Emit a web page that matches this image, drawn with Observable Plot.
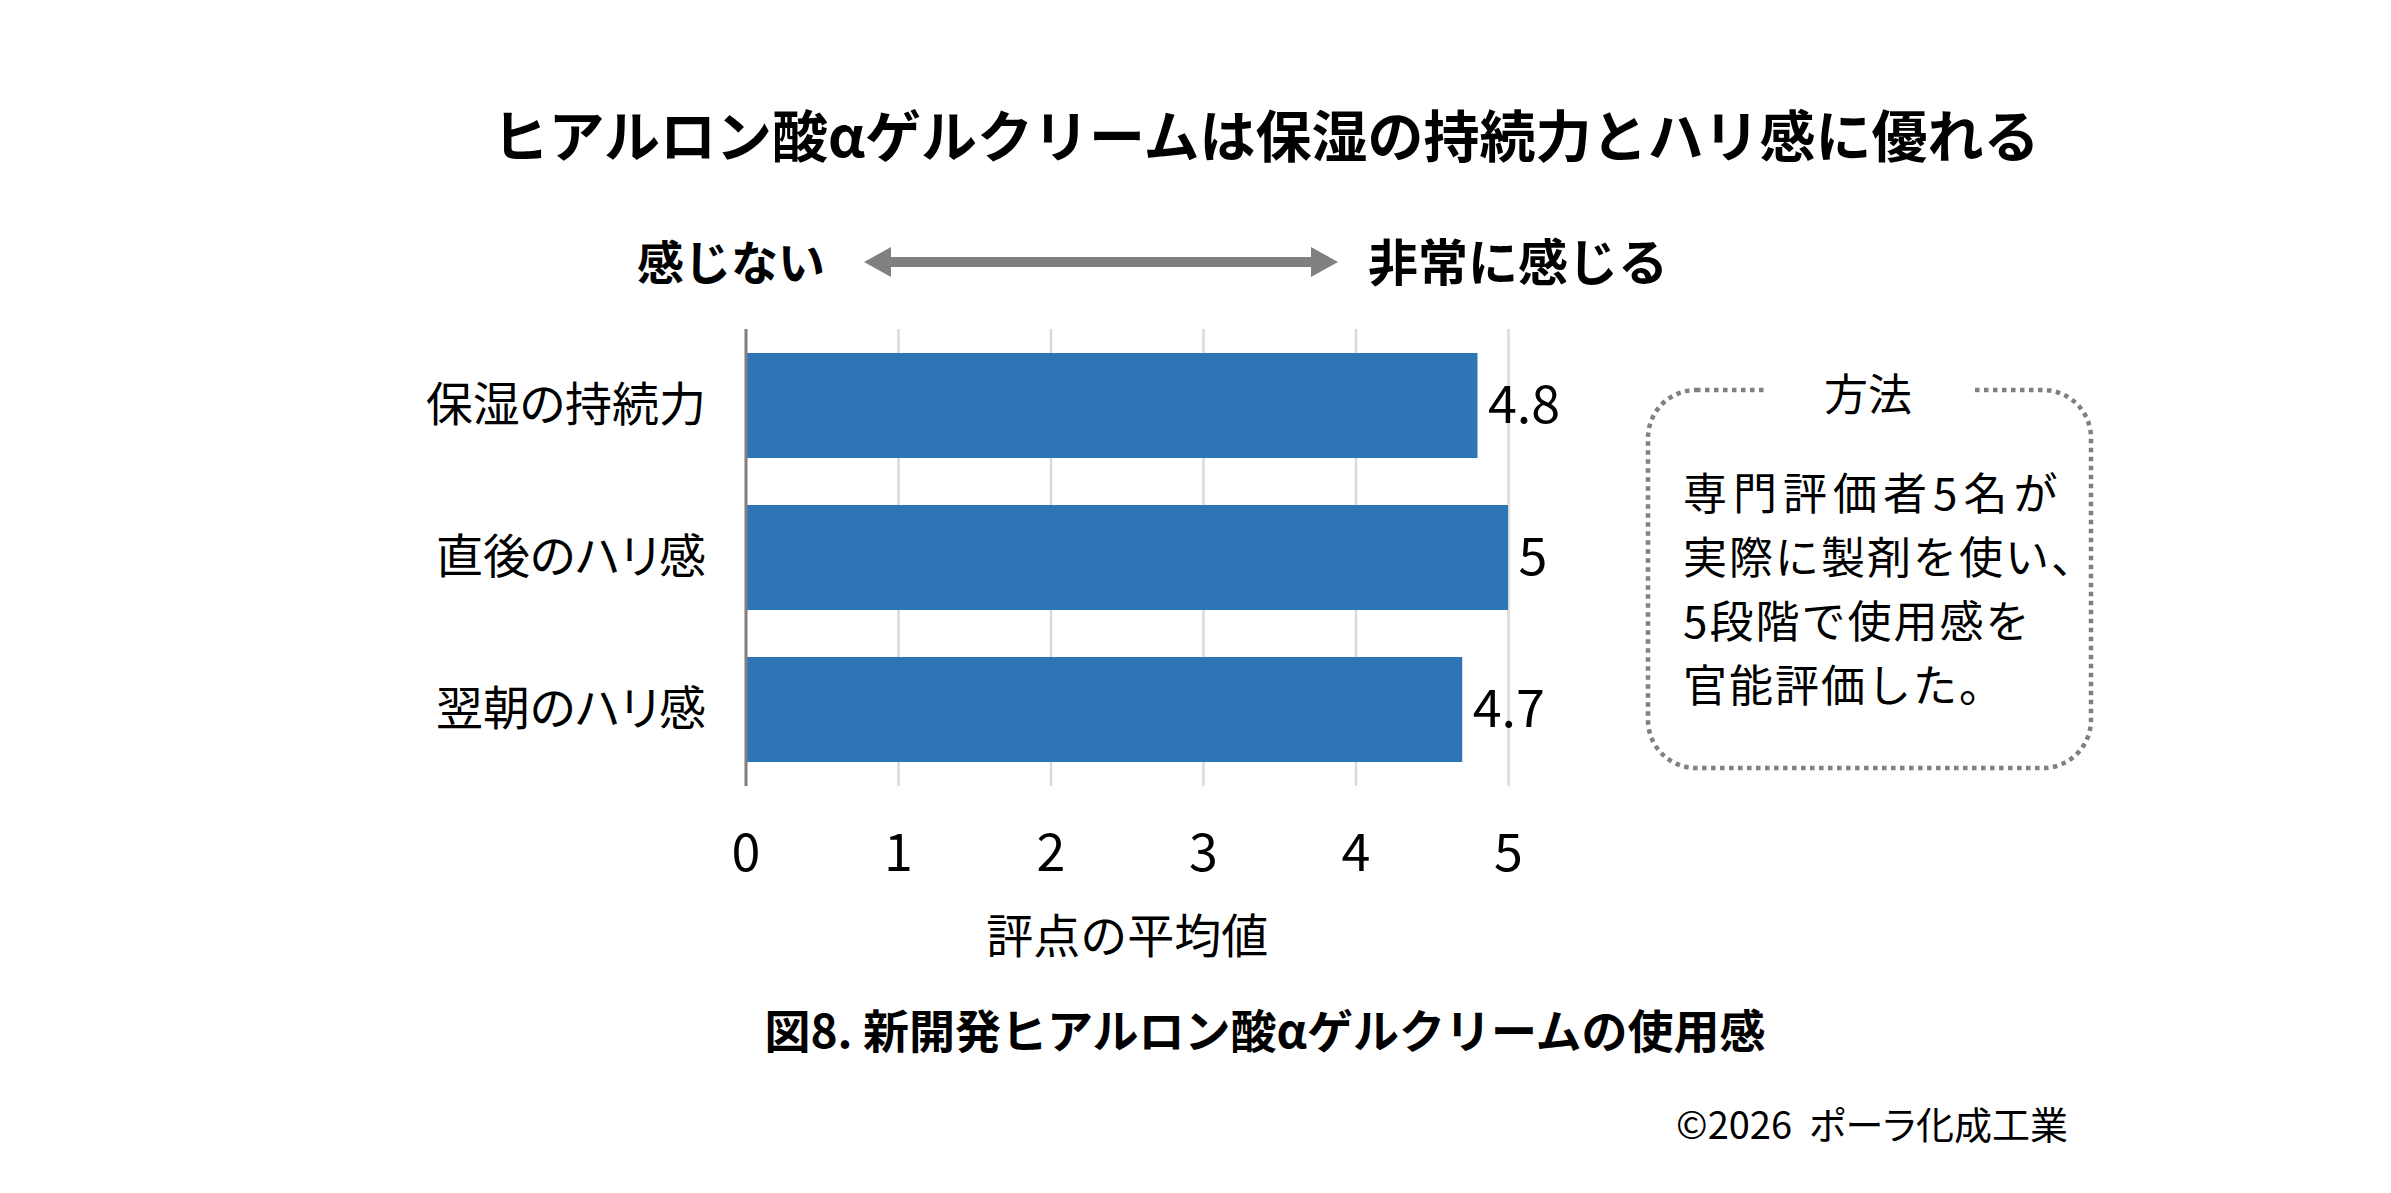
<!DOCTYPE html>
<html><head><meta charset="utf-8">
<script src="https://cdn.jsdelivr.net/npm/d3@7"></script>
<script src="https://cdn.jsdelivr.net/npm/@observablehq/plot@0.6"></script>
<style>
body{margin:0;background:#fff;font-family:"Noto Sans CJK JP","Noto Sans",sans-serif;}
#page{position:relative;width:2391px;height:1193px;overflow:hidden;background:#fff;}
.abs{position:absolute;white-space:nowrap;line-height:1;transform:translate(-50%,-50%);color:#000;}
#plot{position:absolute;left:0;top:300px;}
#overlay{position:absolute;left:0;top:0;pointer-events:none;}
</style></head><body><div id="page">
<div class="abs" id="title" style="left:1266px;top:133px;font-size:56px;font-weight:700;">ヒアルロン酸αゲルクリームは保湿の持続力とハリ感に優れる</div>
<div class="abs" style="left:731px;top:259px;font-size:47px;font-weight:700;">感じない</div>
<div class="abs" style="left:1518px;top:259px;font-size:50px;font-weight:700;">非常に感じる</div>
<div class="abs" style="left:1265px;top:1028px;font-size:46px;font-weight:700;">図8. 新開発ヒアルロン酸αゲルクリームの使用感</div>
<div class="abs" style="left:2068px;top:1123px;font-size:38px;transform:translate(-100%,-50%);font-feature-settings:'palt';">©2026&nbsp;&nbsp;ポーラ化成工業</div>
<div id="plot"></div>
</div>
<script>
const categories = ["保湿の持続力", "直後のハリ感", "翌朝のハリ感"];
const values = [4.8, 5, 4.7];
const xTicks = [0, 1, 2, 3, 4, 5];
const xLabel = "評点の平均値";
const methodTitle = "方法";
const methodLines = ["専門評価者5名が", "実際に製剤を使い、", "5段階で使用感を", "官能評価した。"];

const data = categories.map((c, i) => ({category: c, value: values[i]}));
const font = '"Noto Sans CJK JP","Noto Sans",sans-serif';

const chart = Plot.plot({
  width: 2391,
  height: 700,
  marginLeft: 745.5,
  marginRight: 883,
  marginTop: 29,
  marginBottom: 214,
  x: {domain: [0, 5], ticks: xTicks},
  y: {domain: categories, paddingInner: 0.31, paddingOuter: 0.155},
  style: {fontFamily: font, fontSize: "46px", color: "#000", background: "transparent", overflow: "visible"},
  marks: [
    Plot.ruleX(xTicks, {stroke: "#d9d9d9", strokeWidth: 2.5}),
    Plot.barX(data, {x: "value", y: "category", fill: "#2e75b6"}),
    Plot.ruleX([0], {stroke: "#808080", strokeWidth: 3}),
    Plot.text(data, {x: "value", y: "category", text: d => String(d.value), textAnchor: "start", dx: 10, fontSize: 52, fill: "#000"}),
    Plot.axisX({ticks: xTicks, tickSize: 0, tickPadding: 48, fontSize: 52, label: null, fill: "#000", tickFormat: d => String(d)}),
    Plot.axisY({tickSize: 0, tickPadding: 40, fontSize: 47, label: null, fill: "#000", fontVariant: "normal", style: "font-feature-settings:'palt'"}),
    Plot.text([xLabel], {frameAnchor: "bottom", dy: 151, fontSize: 47, fill: "#000", lineAnchor: "middle"})
  ]
});
d3.select(chart).selectAll('g[aria-label="y-axis tick label"] text').style("font-feature-settings", "'palt'");
document.getElementById("plot").appendChild(chart);

// overlay: arrow and method box
const svg = d3.select("#page").append("svg").attr("id", "overlay")
  .attr("width", 2391).attr("height", 1193);
const g = "#808080";
const ax0 = 864, ax1 = 1338, ay = 262, hl = 27, hh = 15, sh = 5;
svg.append("path").attr("fill", g).attr("d",
  `M${ax0},${ay} L${ax0+hl},${ay-hh} L${ax0+hl},${ay-sh} L${ax1-hl},${ay-sh} L${ax1-hl},${ay-hh} L${ax1},${ay} L${ax1-hl},${ay+hh} L${ax1-hl},${ay+sh} L${ax0+hl},${ay+sh} L${ax0+hl},${ay+hh} Z`);

const bx = 1648, by = 390, bw = 443, bh = 378;
svg.append("rect").attr("x", bx).attr("y", by).attr("width", bw).attr("height", bh)
  .attr("rx", 48).attr("fill", "none").attr("stroke", g).attr("stroke-width", 4.5)
  .attr("stroke-dasharray", "4.5 4.5");
svg.append("rect").attr("x", 1766).attr("y", by - 10).attr("width", 206).attr("height", 20).attr("fill", "#fff");
svg.append("text").attr("x", 1868).attr("y", 392).attr("text-anchor", "middle").attr("dominant-baseline", "central")
  .attr("font-family", font).attr("font-size", 44).attr("fill", "#000").text(methodTitle);
methodLines.forEach((t, i) => {
  svg.append("text").attr("x", 1683).attr("y", 491 + i * 64).attr("dominant-baseline", "central")
    .attr("font-family", font).attr("font-size", 44).attr("letter-spacing", i === 0 ? 6 : 2)
    .attr("fill", "#000").text(t);
});
</script>
</body></html>
